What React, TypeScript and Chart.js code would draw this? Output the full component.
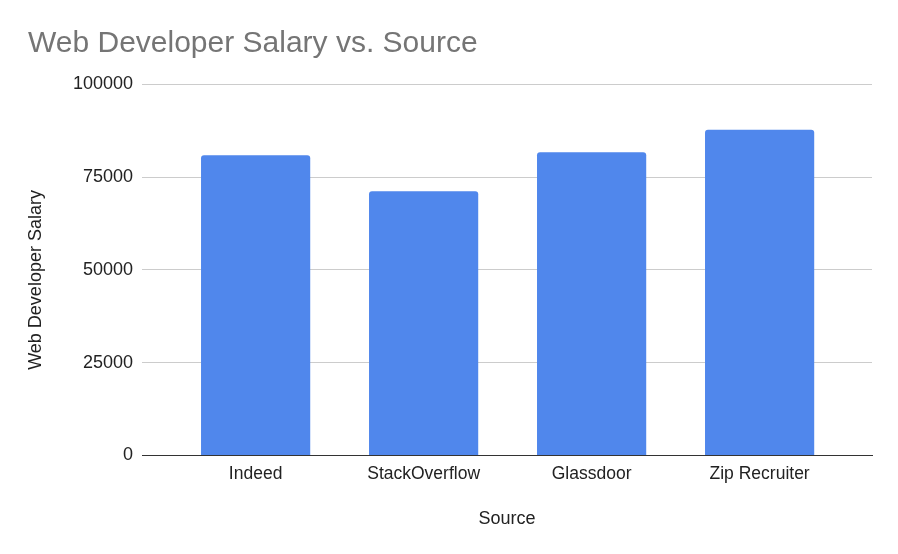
import { useEffect, useRef } from 'react';
import { Chart, registerables } from 'chart.js';

Chart.register(...registerables);

// Data
const sources = ['Indeed', 'StackOverflow', 'Glassdoor', 'Zip Recruiter'];
const salaries = [80900, 71200, 81700, 87800];
const yTicks = [0, 25000, 50000, 75000, 100000];

const FONT = '"Liberation Sans", Arial, sans-serif';

export default function App() {
  const canvasRef = useRef<HTMLCanvasElement>(null);
  const chartRef = useRef<Chart | null>(null);

  useEffect(() => {
    if (!canvasRef.current) return;
    if (chartRef.current) chartRef.current.destroy();

    chartRef.current = new Chart(canvasRef.current, {
      type: 'bar',
      data: {
        datasets: [
          {
            label: 'Web Developer Salary',
            data: salaries.map((v, i) => ({ x: i, y: v })),
            backgroundColor: '#5087EC',
            borderRadius: 3,
            categoryPercentage: 1,
            barPercentage: 0.65,
          },
        ],
      },
      options: {
        responsive: true,
        maintainAspectRatio: false,
        animation: false,
        layout: { padding: { top: 0, left: 28, right: 26, bottom: 0 } },
        plugins: {
          legend: { display: false },
          tooltip: { enabled: false },
          title: {
            display: true,
            text: 'Web Developer Salary vs. Source',
            align: 'start',
            color: '#757575',
            font: { family: FONT, size: 30, weight: 'normal' },
            padding: { top: 26, bottom: 22.5 },
          },
        },
        scales: {
          x: {
            type: 'linear',
            offset: false,
            min: -0.676,
            max: sources.length - 1 + 0.669,
            grid: { display: false, drawTicks: false },
            border: { display: true, color: '#333', width: 1 },
            ticks: {
              stepSize: 1,
              includeBounds: false,
              autoSkip: false,
              maxRotation: 0,
              padding: 8,
              color: '#222',
              font: { family: FONT, size: 17.5 },
              callback: (v) => sources[Number(v)] ?? '',
            },
            title: {
              display: true,
              text: 'Source',
              color: '#222',
              font: { family: FONT, size: 18 },
              padding: { top: 16, bottom: 24 },
            },
          },
          y: {
            min: yTicks[0],
            max: yTicks[yTicks.length - 1],
            grid: {
              drawTicks: false,
              color: (ctx) => (ctx.tick && ctx.tick.value === 0 ? '#333' : '#ccc'),
            },
            border: { display: false },
            afterBuildTicks: (scale) => {
              scale.ticks = yTicks.map((value) => ({ value }));
            },
            ticks: {
              padding: 9,
              color: '#222',
              font: { family: FONT, size: 18 },
              callback: (v) => String(v),
            },
            title: {
              display: true,
              // trailing spaces nudge the rotated title down a little, as in the reference
              text: 'Web Developer Salary    ',
              color: '#222',
              font: { family: FONT, size: 18 },
              padding: { top: -2.8, bottom: 17.2 },
            },
          },
        },
      },
    });

    return () => {
      if (chartRef.current) {
        chartRef.current.destroy();
        chartRef.current = null;
      }
    };
  }, []);

  return (
    <div style={{ position: 'fixed', left: 0, top: 0, width: 898, height: 554, background: '#fff' }}>
      <canvas ref={canvasRef}></canvas>
    </div>
  );
}
